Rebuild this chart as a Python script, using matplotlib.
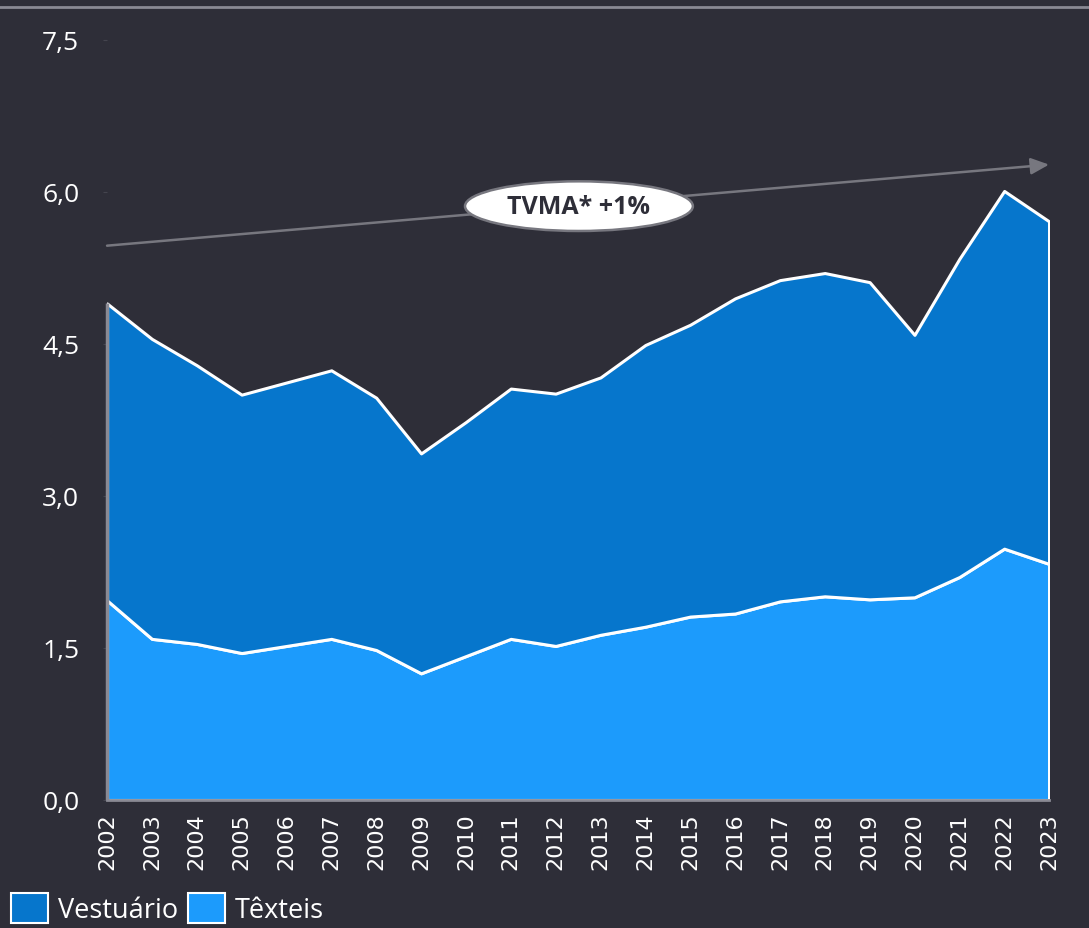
import numpy as np
import matplotlib.pyplot as plt
from matplotlib.patches import Ellipse, Patch
from matplotlib.lines import Line2D

anos = list(range(2002, 2024))
texteis = [1.97, 1.59, 1.54, 1.45, 1.52, 1.59, 1.48, 1.25, 1.42, 1.59, 1.52,
           1.63, 1.71, 1.81, 1.84, 1.96, 2.01, 1.98, 2.00, 2.20, 2.48, 2.33]
vestuario = [2.93, 2.96, 2.75, 2.55, 2.60, 2.65, 2.49, 2.17, 2.31, 2.47, 2.49,
             2.54, 2.78, 2.88, 3.11, 3.17, 3.19, 3.13, 2.59, 3.14, 3.53, 3.38]
y_ticks = [0.0, 1.5, 3.0, 4.5, 6.0, 7.5]
y_labels = ["0,0", "1,5", "3,0", "4,5", "6,0", "7,5"]
tendencia_x = [2002, 2023]
tendencia_y = [5.47, 6.27]
rotulo = "TVMA* +1%"

fundo = "#2e2e38"
cor_vest = "#0676cc"
cor_text = "#1c9bfc"
cinza = "#8a8a94"

fig = plt.figure(figsize=(10.89, 9.29), dpi=100, facecolor=fundo)
ax = fig.add_axes([0.0983, 0.1378, 0.865, 0.8181])
ax.set_facecolor(fundo)

ax.stackplot(anos, texteis, vestuario, colors=[cor_text, cor_vest],
             edgecolor="white", linewidth=2.2)

ax.set_xlim(2002, 2023)
ax.set_ylim(0, 7.5)

for s in ["top", "right", "left"]:
    ax.spines[s].set_visible(False)
ax.spines["bottom"].set_color(cinza)
ax.spines["bottom"].set_linewidth(2)
ax.spines["bottom"].set_zorder(5)
# borda esquerda cinzenta apenas ao longo da area
total_inicio = texteis[0] + vestuario[0]
ax.vlines(anos[0], 0, total_inicio, color=cinza, lw=2.5, zorder=5, clip_on=False)

ax.set_yticks(y_ticks)
ax.set_yticklabels(y_labels, fontfamily="Open Sans", fontsize=19, color="white")
ax.tick_params(axis="y", length=3, color="#44444e", pad=17)
ax.set_xticks(anos)
ax.set_xticklabels([str(a) for a in anos], rotation=90, fontfamily="DejaVu Sans",
                   fontsize=16, color="white")
ax.tick_params(axis="x", length=0, pad=9)

# seta de tendencia
ax.annotate("", xy=(tendencia_x[1], tendencia_y[1]), xytext=(tendencia_x[0], tendencia_y[0]),
            arrowprops=dict(arrowstyle="-|>,head_length=1.1,head_width=0.5", color="#77777f",
                            lw=1.8, shrinkA=0, shrinkB=0),
            annotation_clip=False)

elipse = Ellipse((2012.52, 5.86), 5.08, 0.49, facecolor="white", edgecolor="#77777f",
                 linewidth=1.8, zorder=6, clip_on=False)
ax.add_patch(elipse)
ax.text(2012.52, 5.86, rotulo, ha="center", va="center", fontsize=18,
        fontweight="bold", fontfamily="Open Sans", color=fundo, zorder=7)

# linha superior
fig.add_artist(Line2D([0, 1], [1 - 8 / 929, 1 - 8 / 929], color=cinza, lw=2,
                      transform=fig.transFigure))

handles = [Patch(facecolor=cor_vest, edgecolor="white", linewidth=1.5, label="Vestuário"),
           Patch(facecolor=cor_text, edgecolor="white", linewidth=1.5, label="Têxteis")]
leg = fig.legend(handles=handles, loc="lower left", bbox_to_anchor=(-0.012, -0.022),
                 ncol=2, frameon=False, handlelength=1.37, handleheight=1.3,
                 handletextpad=0.37, columnspacing=0.35,
                 prop={"family": "Open Sans", "size": 19.5})
for t in leg.get_texts():
    t.set_color("white")

fig.savefig("out.png", dpi=100, facecolor=fundo)
